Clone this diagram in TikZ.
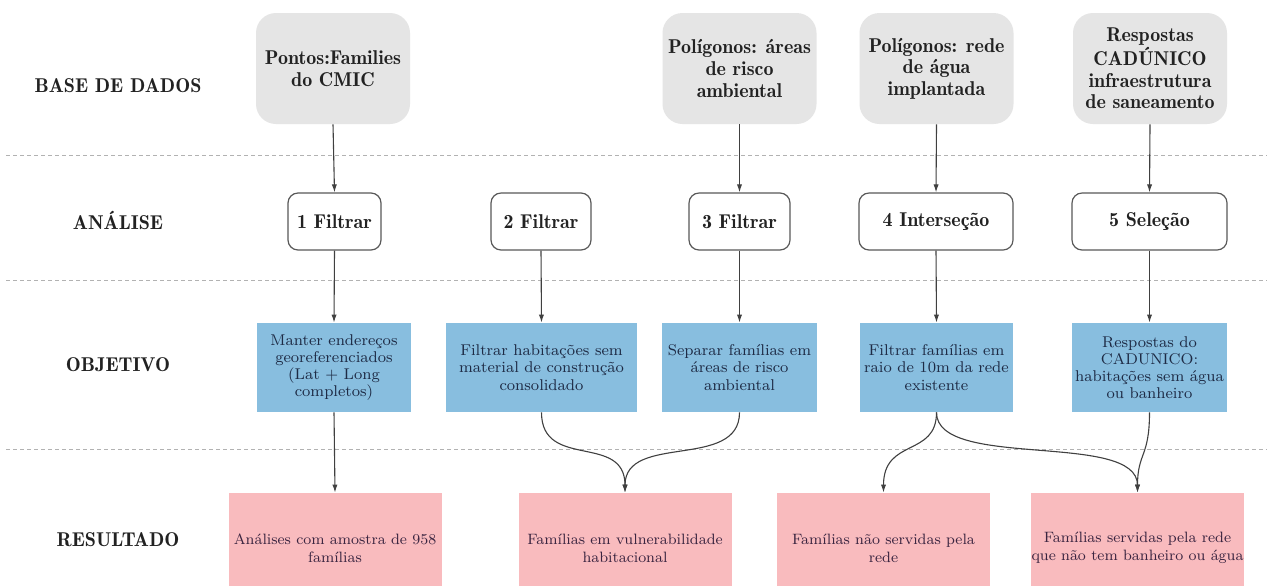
\documentclass[tikz,border=0pt]{standalone}
\usetikzlibrary{arrows.meta}
\definecolor{gfill}{HTML}{E5E5E5}
\definecolor{bfill}{HTML}{88BEDF}
\definecolor{pfill}{HTML}{F9BBBE}
\definecolor{btext}{HTML}{1E2B45}
\definecolor{ptext}{HTML}{3A2440}
\definecolor{ltext}{HTML}{222222}
\newcommand{\bfnarrow}{\fontseries{b}\selectfont}
\begin{document}
\begin{tikzpicture}[x=0.5pt,y=-0.5pt,
 lbl/.style={font=\fontsize{10}{11}\bfnarrow, text=ltext, inner sep=0pt},
 gbox/.style={fill=gfill, rounded corners=10pt, minimum width=77pt, minimum height=55.5pt, align=center, font=\fontsize{10}{10.8}\bfnarrow, text=ltext, inner sep=0pt},
 abox/.style={draw=black!65, line width=0.6pt, fill=white, rounded corners=5pt, minimum height=28.5pt, align=center, font=\fontsize{10}{11}\bfnarrow, text=ltext, inner sep=0pt},
 bbox/.style={fill=bfill, minimum height=44.5pt, align=center, font=\fontsize{7.8}{8.6}\selectfont, text=btext, inner sep=0pt},
 pbox/.style={fill=pfill, minimum height=55pt, minimum width=106.5pt, align=center, font=\fontsize{7.5}{9}\selectfont, text=ptext, inner sep=0pt},
 conn/.style={draw=black!75, line width=0.55pt, -{Latex[length=4pt,width=2.6pt]}},
 sep/.style={draw=black!30, line width=0.5pt, dash pattern=on 2pt off 1.5pt}]
\clip (0,0) rectangle (1267,585);
\fill[white] (0,0) rectangle (1267,585);

% separators
\draw[sep] (6,155) -- (1267,155);
\draw[sep] (6,280) -- (1267,280);
\draw[sep] (6,449) -- (1267,449);

% row labels
\node[lbl] (l1) at (118,86) {BASE DE DADOS};
\node[lbl] (l2) at (118,220) {ANÁLISE};
\node[lbl] (l3) at (118,365) {OBJETIVO};
\node[lbl] (l4) at (118,540) {RESULTADO};

% data base
\node[gbox] (g1) at (333,68.5) {Pontos:Families\\do CMIC};
\node[gbox] (g3) at (739.5,68.5) {Polígonos: áreas\\de risco\\ambiental};
\node[gbox] (g4) at (936.5,68.5) {Polígonos: rede\\de água\\implantada};
\node[gbox] (g5) at (1150,68.5) {Respostas\\CADÚNICO\\infraestrutura\\de saneamento};

% analysis
\node[abox, minimum width=46.5pt] (a1) at (334.5,221.5) {1 Filtrar};
\node[abox, minimum width=50pt] (a2) at (541,221.5) {2 Filtrar};
\node[abox, minimum width=50.5pt] (a3) at (739.5,221.5) {3 Filtrar};
\node[abox, minimum width=77pt] (a4) at (936,221.5) {4 Interseção};
\node[abox, minimum width=77.5pt] (a5) at (1149.5,221.5) {5 Seleção};

% objective
\node[bbox, minimum width=77pt] (b1) at (334,367.5) {Manter endereços\\georeferenciados\\(Lat + Long\\completos)};
\node[bbox, minimum width=95.5pt] (b2) at (541.5,367.5) {Filtrar habitações sem\\material de construção\\consolidado};
\node[bbox, minimum width=77.5pt] (b3) at (739.5,367.5) {Separar famílias em\\áreas de risco\\ambiental};
\node[bbox, minimum width=76.5pt] (b4) at (936.5,367.5) {Filtrar famílias em\\raio de 10m da rede\\existente};
\node[bbox, minimum width=77.5pt] (b5) at (1149.5,367.5) {Respostas do\\CADUNICO:\\habitações sem água\\ou banheiro};

% result
\node[pbox] (p1) at (335,548) {Análises com amostra de 958\\famílias};
\node[pbox] (p2) at (625,548) {Famílias em vulnerabilidade\\habitacional};
\node[pbox] (p3) at (883.5,548) {Famílias não servidas pela\\rede};
\node[pbox] (p4) at (1137.5,548) {Famílias servidas pela rede\\que não tem banheiro ou água};

% connectors
\draw[conn] (g1.south) -- (a1.north);
\draw[conn] (g3.south) -- (a3.north);
\draw[conn] (g4.south) -- (a4.north);
\draw[conn] (g5.south) -- (a5.north);

\draw[conn] (a1.south) -- (b1.north);
\draw[conn] (a2.south) -- (b2.north);
\draw[conn] (a3.south) -- (b3.north);
\draw[conn] (a4.south) -- (b4.north);
\draw[conn] (a5.south) -- (b5.north);

\draw[conn] (b1.south) -- (p1.north);
\draw[conn] (b2.south) .. controls +(0,58) and +(0,-60) .. (p2.north);
\draw[conn] (b3.south) .. controls +(0,58) and +(0,-60) .. (p2.north);
\draw[conn] (b4.south) .. controls +(0,45) and +(0,-55) .. (p3.north);
\draw[conn] (b4.south) .. controls +(0,58) and +(0,-62) .. (p4.north);
\draw[conn] (b5.south) .. controls +(0,45) and +(0,-40) .. (p4.north);
\end{tikzpicture}
\end{document}
